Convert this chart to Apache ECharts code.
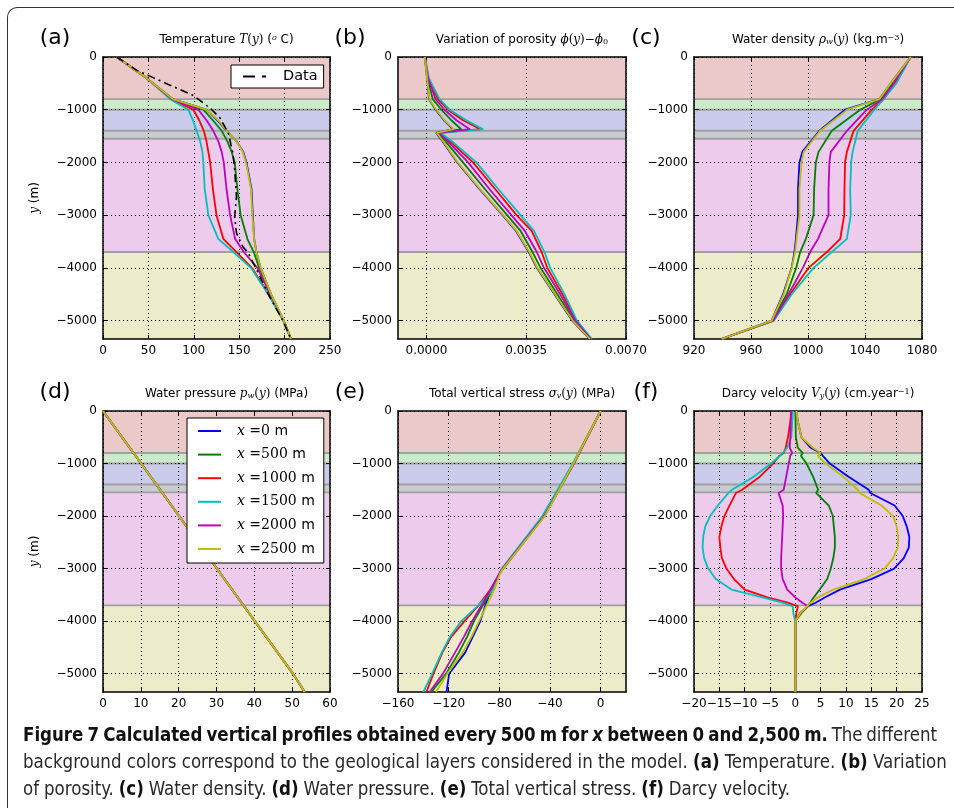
<!DOCTYPE html>
<html>
<head>
<meta charset="utf-8">
<script src="https://cdn.jsdelivr.net/npm/echarts@6/dist/echarts.min.js"></script>
<style>
html, body { margin: 0; padding: 0; background: #fff; }
#wrap { position: relative; width: 954px; height: 808px; overflow: hidden; }
#main { position: absolute; left: 0; top: 0; width: 954px; height: 808px; }
#frame { position: absolute; left: 7px; top: 7px; width: 990px; height: 850px;
  border-top: 1px solid #333; border-left: 1px solid #333; border-top-left-radius: 10px; }
#caption { position: absolute; left: 23px; top: 721px; color: #2a2a2a; white-space: nowrap;
  font-family: "Liberation Sans Narrow", "DejaVu Sans Condensed", sans-serif; font-size: 20px; line-height: 27px; }
#caption .ln { display: table; }
#caption b { color: #111; }
</style>
</head>
<body>
<div id="wrap">
  <div id="main"></div>
  <div id="frame"></div>
  <div id="caption">
    <div class="ln" id="ln1"><b>Figure 7 Calculated vertical profiles obtained every 500 m for <i>x</i> between 0 and 2,500 m.</b> The different</div>
    <div class="ln" id="ln2">background colors correspond to the geological layers considered in the model. <b>(a)</b> Temperature. <b>(b)</b> Variation</div>
    <div class="ln" id="ln3">of porosity. <b>(c)</b> Water density. <b>(d)</b> Water pressure. <b>(e)</b> Total vertical stress. <b>(f)</b> Darcy velocity.</div>
  </div>
</div>
<script>
// series names / colours (order: x = 0, 500, 1000, 1500, 2000, 2500 m)
const names = ['x=0 m', 'x=500 m', 'x=1000 m', 'x=1500 m', 'x=2000 m', 'x=2500 m'];
const colors = ['#0000ff', '#008000', '#ff0000', '#00bfbf', '#bf00bf', '#bfbf00'];

// geological layers
const layerTop = [0, -800, -1000, -1400, -1550, -3700];
const layerBottom = [-800, -1000, -1400, -1550, -3700, -5350];
const layerColors = ['#ecc9c9', '#cbebcb', '#cbcbeb', '#cacbd0', '#eccbec', '#ececcb'];
const boundaries = [-800, -1000, -1400, -1550, -3700];

// tick values
const depthTicks = [0, -1000, -2000, -3000, -4000, -5000];
const tempTicks = [0, 50, 100, 150, 200, 250];
const porTicks = [0, 0.0035, 0.007];
const densTicks = [920, 960, 1000, 1040, 1080];
const presTicks = [0, 10, 20, 30, 40, 50, 60];
const stressTicks = [-160, -120, -80, -40, 0];
const velTicks = [-20, -15, -10, -5, 0, 5, 10, 15, 20, 25];

// (a) temperature
const tempDepth = [0, -400, -800, -1000, -1200, -1400, -1600, -1800, -2000, -2500, -3000, -3450, -3700, -4000, -4500, -5000, -5350];
const tempBlue    = [15, 48, 77, 114, 126, 136, 147, 154.5, 158, 163.5, 165, 166.5, 169, 173.5, 185, 199, 207];
const tempGreen   = [15, 48, 76.5, 110.5, 121, 130.7, 137, 141.7, 145, 148, 151.6, 159, 166, 172, 184.5, 199, 207];
const tempRed     = [15, 48, 75, 99.5, 106, 111, 114, 116, 118, 121, 125, 132.5, 147, 164, 182.5, 198.5, 207];
const tempCyan    = [15, 48, 74, 94, 99, 103, 107, 109.5, 110.5, 112, 116, 127, 143.5, 163, 182, 198.5, 207];
const tempMagenta = [15, 48, 76, 105, 114, 121.5, 127, 130.7, 133, 136, 140, 145.5, 155, 170, 184, 199, 207];
const tempYellow  = [15, 48, 77, 114, 127, 136, 147, 154, 157.5, 163, 164.5, 166.5, 169, 173.5, 185, 199, 207];
const dataDepth = [0, -250, -520, -730, -970, -1160, -1440, -1820, -2140, -2650, -3030, -3340, -3600, -3720, -4100, -4500, -5000, -5350];
const dataTemp  = [15, 37, 72, 99.5, 118, 129, 138, 143, 145, 147, 145, 147, 154, 160, 171, 182, 198, 207];

// (b) porosity variation
const porDepth = [0, -400, -800, -1000, -1200, -1370, -1440, -1600, -2000, -2500, -3000, -3300, -3700, -4000, -4500, -5000, -5350];
const porBlue    = [-0.00006, 0.00002, 0.00009, 0.00032, 0.00061, 0.00093, 0.00034, 0.00056, 0.00108, 0.00185, 0.00267, 0.00314, 0.00359, 0.00387, 0.00449, 0.00511, 0.00572];
const porGreen   = [-0.00006, 0.00004, 0.00022, 0.00052, 0.00087, 0.00122, 0.0004, 0.00067, 0.00128, 0.00204, 0.00283, 0.0033, 0.00372, 0.004, 0.00459, 0.00518, 0.00575];
const porRed     = [-0.00006, 0.00007, 0.0004, 0.00075, 0.00128, 0.00189, 0.00046, 0.00083, 0.00163, 0.0024, 0.00316, 0.00369, 0.00404, 0.00424, 0.00477, 0.00526, 0.00578];
const porCyan    = [-0.00006, 0.00008, 0.00046, 0.00081, 0.0014, 0.00199, 0.00049, 0.0009, 0.00175, 0.00251, 0.0033, 0.00377, 0.00414, 0.00434, 0.00484, 0.00528, 0.0058];
const porMagenta = [-0.00006, 0.00005, 0.00032, 0.00063, 0.00105, 0.00152, 0.00043, 0.00075, 0.00146, 0.0022, 0.00298, 0.00345, 0.00387, 0.00412, 0.00469, 0.00522, 0.00576];
const porYellow  = [-0.00006, 0.00002, 0.0001, 0.00034, 0.00063, 0.00095, 0.00036, 0.00058, 0.0011, 0.00187, 0.00269, 0.00316, 0.00361, 0.00389, 0.00451, 0.00513, 0.00573];

// (c) water density
const densDepth = [0, -500, -800, -1000, -1400, -1800, -2000, -2500, -3000, -3450, -3700, -4000, -4500, -5000, -5350];
const densBlue    = [1072, 1058, 1050, 1026, 1008, 996, 994, 993, 993, 991.5, 990.5, 988.5, 982.5, 974.5, 939];
const densGreen   = [1072, 1059, 1051, 1036.6, 1016.7, 1007.4, 1005.5, 1004.3, 1003.9, 998.5, 994.5, 991.7, 985, 975, 939.5];
const densRed     = [1072, 1061, 1053, 1044.8, 1032, 1027.3, 1026, 1025.6, 1025.4, 1022.6, 1013.2, 1000.4, 987.5, 976, 939.5];
const densCyan    = [1072, 1062, 1053, 1046.5, 1035, 1031.3, 1030.3, 1029.6, 1030, 1027.3, 1016.7, 1003.9, 988.6, 976, 939.5];
const densMagenta = [1072, 1060, 1052, 1041.3, 1027.3, 1016, 1015, 1014.4, 1014.4, 1007, 1001.5, 996.4, 986.3, 975.5, 939.5];
const densYellow  = [1072, 1058, 1050, 1027.5, 1008.5, 997, 995.5, 994, 994, 992, 991, 988.6, 983, 974.6, 939.4];

// (d) water pressure (all six profiles coincide)
const presDepth = [0, -1000, -2000, -3000, -4000, -5000, -5350];
const pressure  = [0, 10.1, 20.1, 30.1, 40.1, 50.2, 53.3];

// (e) total vertical stress
const stressDepth = [0, -1000, -2000, -3000, -3100, -3400, -3700, -4000, -4300, -4600, -5000, -5350];
const stressBlue    = [0, -21.5, -44.5, -77, -80, -86.5, -91, -95, -101, -107, -119.6, -121.7];
const stressGreen   = [0, -21.5, -44.5, -77, -80, -85, -93, -100, -105.5, -112, -122, -133.6];
const stressRed     = [0, -21.5, -45, -77.5, -80, -87, -96.5, -107.5, -118, -125, -132, -137.6];
const stressCyan    = [0, -22, -46, -78, -80, -85, -96.5, -110, -119, -125.5, -133, -140];
const stressMagenta = [0, -21, -44.5, -77.5, -80, -87, -94, -101.5, -108, -115, -124.5, -135];
const stressYellow  = [0, -21.5, -44, -77, -79.5, -84, -90, -96, -102, -109, -121, -130];

// (f) Darcy velocity
const velDepth = [0, -200, -500, -700, -800, -850, -1000, -1250, -1500, -1560, -1800, -2000, -2200, -2400, -2600, -2800, -3000, -3200, -3400, -3550, -3650, -3720, -3850, -4000, -5350];
const velBlue    = [0.2, 0.5, 1.2, 3.0, 5.0, 5.4, 6.8, 10.5, 14.5, 14.8, 19.6, 21.2, 22.0, 22.5, 22.4, 21.4, 19.5, 15.0, 8.8, 5.8, 4.0, 2.4, 1.0, 0, 0];
const velGreen   = [0, 0.05, 0.1, 0.5, 1.5, 1.1, 2.2, 3.5, 4.5, 4.1, 6.6, 7.4, 7.6, 7.8, 7.8, 7.5, 7.0, 6.3, 4.8, 3.6, 2.9, 2.4, 1.2, 0, 0];
const velRed     = [-0.8, -1.0, -1.45, -1.9, -2.3, -3.1, -4.4, -7.0, -10.5, -11.7, -13.0, -14.0, -14.6, -15.0, -14.8, -14.5, -13.6, -12.1, -10.0, -5.5, -1.5, 0.5, 0.2, 0, 0];
const velCyan    = [-0.46, -0.6, -0.8, -1.6, -2.5, -3.0, -4.8, -8.2, -12.5, -13.2, -15.3, -16.8, -17.8, -18.2, -18.3, -18.0, -17.2, -15.7, -12.6, -6.5, -2.5, -0.5, -0.4, 0, 0];
const velMagenta = [-0.8, -0.9, -1.0, -1.1, -0.6, -1.0, -1.3, -1.8, -2.3, -3.3, -2.5, -2.4, -2.5, -2.6, -2.7, -2.8, -2.8, -2.5, -1.6, 0.0, 1.4, 2.5, 0.9, 0, 0];
const velYellow  = [0.2, 0.5, 1.2, 3.5, 5.0, 4.4, 6.0, 9.5, 12.3, 12.7, 17.0, 19.3, 20.0, 20.3, 20.2, 19.3, 17.6, 13.6, 7.5, 4.4, 3.0, 2.3, 1.0, 0, 0];

function intFmt(v) { return (v < 0 ? '\u2212' : '') + Math.abs(v); }
function porFmt(v) { return (v < 0 ? '\u2212' : '') + Math.abs(v).toFixed(4); }

const rich = {
  s: { fontFamily: 'DejaVu Sans', fontSize: 12, color: '#000' },
  i: { fontFamily: 'DejaVu Serif', fontStyle: 'italic', fontSize: 12, color: '#000' },
  r: { fontFamily: 'DejaVu Serif', fontSize: 12, color: '#000' },
  sup: { fontFamily: 'DejaVu Serif', fontSize: 8, color: '#000', verticalAlign: 'top' },
  supi: { fontFamily: 'DejaVu Serif', fontStyle: 'italic', fontSize: 8, color: '#000', verticalAlign: 'top' },
  sub: { fontFamily: 'DejaVu Serif', fontSize: 8, color: '#000', verticalAlign: 'bottom' },
  subi: { fontFamily: 'DejaVu Serif', fontStyle: 'italic', fontSize: 8, color: '#000', verticalAlign: 'bottom' }
};

const panels = [
  { letter: '(a)', title: '{s|Temperature }{i|T}{r|(}{i|y}{r|)}{s| (}{supi|o}{s| C)}',
    grid: { left: 103, top: 57, width: 227, height: 282 }, min: 0, max: 250, ticks: tempTicks, fmt: intFmt,
    depth: tempDepth, curves: [tempBlue, tempGreen, tempRed, tempCyan, tempMagenta, tempYellow], yName: true },
  { letter: '(b)', title: '{s|Variation of porosity }{i|ϕ}{r|(}{i|y}{r|)−}{i|ϕ}{sub|0}',
    grid: { left: 398, top: 57, width: 228, height: 282 }, min: -0.001, max: 0.007, ticks: porTicks, fmt: porFmt,
    depth: porDepth, curves: [porBlue, porGreen, porRed, porCyan, porMagenta, porYellow] },
  { letter: '(c)', title: '{s|Water density }{i|ρ}{subi|w}{r|(}{i|y}{r|)}{s| (kg.m}{sup|−3}{s|)}',
    grid: { left: 694, top: 57, width: 228, height: 282 }, min: 920, max: 1080, ticks: densTicks, fmt: intFmt,
    depth: densDepth, curves: [densBlue, densGreen, densRed, densCyan, densMagenta, densYellow] },
  { letter: '(d)', title: '{s|Water pressure }{i|p}{subi|w}{r|(}{i|y}{r|)}{s| (MPa)}',
    grid: { left: 103, top: 411, width: 227, height: 281 }, min: 0, max: 60, ticks: presTicks, fmt: intFmt,
    depth: presDepth, curves: [pressure, pressure, pressure, pressure, pressure, pressure], yName: true },
  { letter: '(e)', title: '{s|Total vertical stress }{i|σ}{subi|v}{r|(}{i|y}{r|)}{s| (MPa)}',
    grid: { left: 398, top: 411, width: 228, height: 281 }, min: -160, max: 20, ticks: stressTicks, fmt: intFmt,
    depth: stressDepth, curves: [stressBlue, stressGreen, stressRed, stressCyan, stressMagenta, stressYellow] },
  { letter: '(f)', title: '{s|Darcy velocity }{i|V}{subi|y}{r|(}{i|y}{r|)}{s| (cm.year}{sup|−1}{s|)}',
    grid: { left: 694, top: 411, width: 228, height: 281 }, min: -20, max: 25, ticks: velTicks, fmt: intFmt,
    depth: velDepth, curves: [velBlue, velGreen, velRed, velCyan, velMagenta, velYellow] }
];

const axisLine = { show: true, onZero: false, lineStyle: { color: '#000', width: 1.5 } };
const tickStyle = { color: '#000', width: 1 };
const labelStyle = { color: '#000', fontSize: 12, fontFamily: 'DejaVu Sans', margin: 6 };
const gridLine = { show: true, lineStyle: { color: '#000', width: 1, type: [1, 3] } };

const grids = [], xAxes = [], yAxes = [], series = [], graphics = [];

// band half thickness for the grey boundary lines (m)
const edge = 18;
const bandData = [];
layerTop.forEach(function (t, k) {
  bandData.push([{ yAxis: t, itemStyle: { color: layerColors[k] } }, { yAxis: layerBottom[k] }]);
});
boundaries.forEach(function (b) {
  bandData.push([{ yAxis: b + edge, itemStyle: { color: '#a0a0a0' } }, { yAxis: b - edge }]);
});

panels.forEach(function (p, i) {
  grids.push(Object.assign({ containLabel: false }, p.grid));
  xAxes.push({
    gridIndex: i, type: 'value', min: p.min, max: p.max, position: 'bottom', z: 2,
    axisLine: axisLine,
    axisTick: { show: true, inside: true, length: 4, customValues: p.ticks, lineStyle: tickStyle },
    axisLabel: Object.assign({ customValues: p.ticks, formatter: p.fmt }, labelStyle),
    splitLine: gridLine
  });
  xAxes.push({
    gridIndex: i, type: 'value', min: p.min, max: p.max, position: 'top', z: 2,
    axisLine: axisLine,
    axisTick: { show: true, inside: true, length: 4, customValues: p.ticks, lineStyle: tickStyle },
    axisLabel: { show: false }, splitLine: { show: false }
  });
  yAxes.push({
    gridIndex: i, type: 'value', min: -5350, max: 0, position: 'left', z: 2,
    name: p.yName ? '{i|y}{s| (m)}' : '', nameLocation: 'middle', nameGap: 62, nameRotate: 90,
    nameTextStyle: { rich: rich },
    axisLine: axisLine,
    axisTick: { show: true, inside: true, length: 4, customValues: depthTicks, lineStyle: tickStyle },
    axisLabel: Object.assign({ customValues: depthTicks, formatter: intFmt }, labelStyle),
    splitLine: gridLine
  });
  yAxes.push({
    gridIndex: i, type: 'value', min: -5350, max: 0, position: 'right', z: 2,
    axisLine: axisLine,
    axisTick: { show: true, inside: true, length: 4, customValues: depthTicks, lineStyle: tickStyle },
    axisLabel: { show: false }, splitLine: { show: false }
  });

  // layer backgrounds
  series.push({
    type: 'line', xAxisIndex: 2 * i, yAxisIndex: 2 * i, data: [], silent: true, z: 1,
    markArea: { silent: true, label: { show: false }, data: bandData }
  });

  p.curves.forEach(function (xs, k) {
    series.push({
      type: 'line', name: names[k], xAxisIndex: 2 * i, yAxisIndex: 2 * i, z: 3,
      symbol: 'none', showSymbol: false, animation: false,
      lineStyle: { color: colors[k], width: 1.8 }, itemStyle: { color: colors[k] },
      data: xs.map(function (x, j) { return [x, p.depth[j]]; })
    });
  });

  const cx = p.grid.left + p.grid.width / 2 + 10;
  const cy = p.grid.top - 17;
  graphics.push({ type: 'text', x: cx, y: cy, z: 10,
    style: { text: p.title, rich: rich, align: 'center', verticalAlign: 'middle', fill: '#000' } });
  graphics.push({ type: 'text', x: p.grid.left - 48, y: cy - 2, z: 10,
    style: { text: p.letter, font: '22px "DejaVu Sans"', align: 'center', verticalAlign: 'middle', fill: '#000' } });
});

// measured temperature
series.push({
  type: 'line', name: 'Data', xAxisIndex: 0, yAxisIndex: 0, z: 4,
  symbol: 'none', showSymbol: false, animation: false,
  lineStyle: { color: '#000', width: 1.6, type: [8, 4, 2, 4] }, itemStyle: { color: '#000' },
  data: dataTemp.map(function (x, j) { return [x, dataDepth[j]]; })
});

const legendRich = {
  i: { fontFamily: 'DejaVu Serif', fontStyle: 'italic', fontSize: 14, color: '#000' },
  r: { fontFamily: 'DejaVu Serif', fontSize: 14, color: '#000' },
  s: { fontFamily: 'DejaVu Sans', fontSize: 14, color: '#000' }
};

const chart = echarts.init(document.getElementById('main'), null, { renderer: 'canvas' });
chart.setOption({
  animation: false,
  backgroundColor: 'transparent',
  grid: grids,
  xAxis: xAxes,
  yAxis: yAxes,
  series: series,
  graphic: graphics,
  legend: [
    {
      data: names, selectedMode: false, orient: 'vertical', left: 187, top: 418,
      icon: 'path://M0,0H23V2H0Z', itemWidth: 23, itemHeight: 2, itemGap: 9.6,
      padding: [6, 9, 7, 11],
      backgroundColor: '#fff', borderColor: '#000', borderWidth: 1, borderRadius: 0,
      textStyle: { fontSize: 14, padding: [0, 0, 0, 11], rich: legendRich },
      formatter: function (name) {
        const m = name.match(/x=(\d+) m/);
        return '{i|x}{r| =' + m[1] + '}{s| m}';
      }
    },
    {
      data: ['Data'], selectedMode: false, left: 231, top: 65,
      icon: 'path://M0,0H12V2H0Z M19,0H23V2H19Z', itemWidth: 23, itemHeight: 2,
      padding: [4, 6, 4, 12],
      backgroundColor: '#fff', borderColor: '#000', borderWidth: 1, borderRadius: 0,
      textStyle: { fontSize: 14.5, fontFamily: 'DejaVu Sans', color: '#000', padding: [0, 0, 0, 12] }
    }
  ]
});

// fit caption: font size from line 2, word spacing for lines 1 and 3
const ln1 = document.getElementById('ln1');
const ln2 = document.getElementById('ln2');
const ln3 = document.getElementById('ln3');
const cap = document.getElementById('caption');
const size = 20 * 924 / ln2.getBoundingClientRect().width;
cap.style.fontSize = size.toFixed(2) + 'px';
function fitLine(el, target) {
  const wNow = el.getBoundingClientRect().width;
  const gaps = (el.textContent.match(/ /g) || []).length;
  if (gaps) el.style.wordSpacing = ((target - wNow) / gaps).toFixed(2) + 'px';
}
fitLine(ln1, 914);
fitLine(ln3, 767);
</script>
</body>
</html>
